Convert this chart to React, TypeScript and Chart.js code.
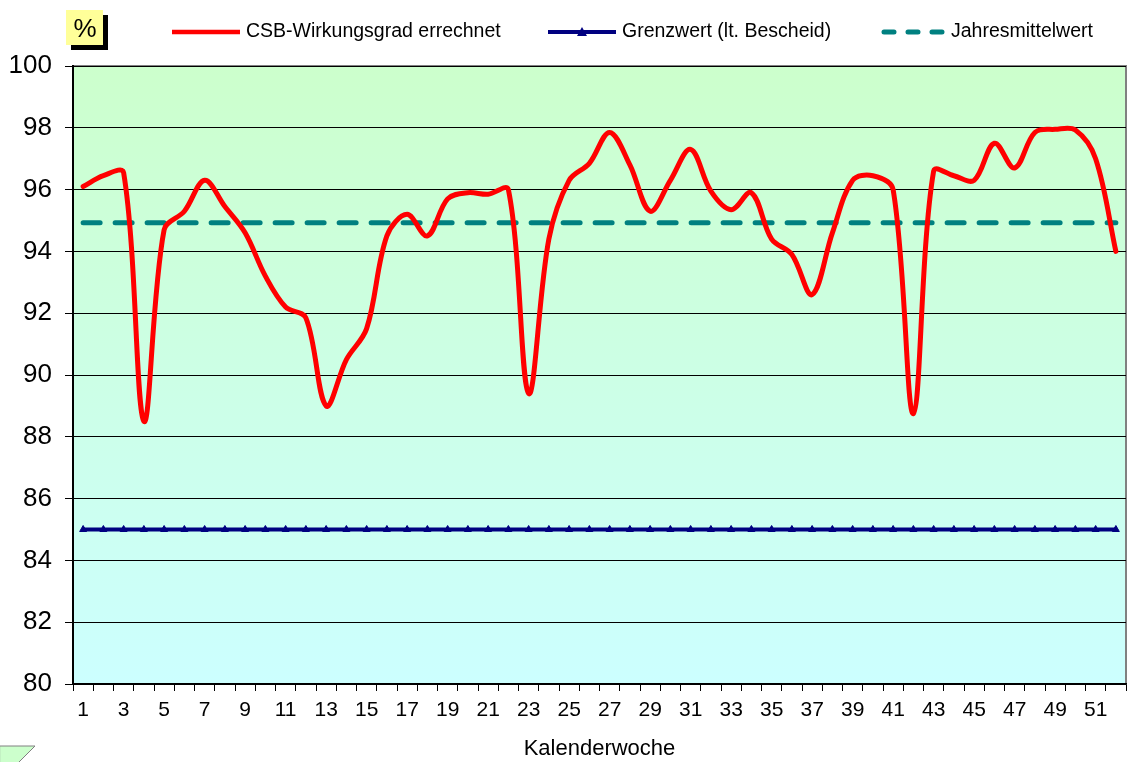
import { useEffect, useRef } from "react";
import { Chart, registerables } from "chart.js";
Chart.register(...registerables);

const weeks = ["1","2","3","4","5","6","7","8","9","10","11","12","13","14","15","16","17","18","19","20","21","22","23","24","25","26","27","28","29","30","31","32","33","34","35","36","37","38","39","40","41","42","43","44","45","46","47","48","49","50","51","52"];

const efficiency = [96.1, 96.45, 96.55, 88.5, 94.7, 95.3, 96.3, 95.45, 94.6, 93.2, 92.2, 91.85, 89.0, 90.5, 91.5, 94.5, 95.2, 94.5, 95.7, 95.9, 95.85, 96.0, 89.4, 94.4, 96.3, 96.85, 97.85, 96.8, 95.3, 96.3, 97.3, 95.95, 95.35, 95.9, 94.4, 93.9, 92.6, 94.6, 96.3, 96.45, 96.0, 88.75, 96.6, 96.45, 96.3, 97.5, 96.7, 97.85, 97.95, 97.93, 97.0, 94.0];

const limit = [85,85,85,85,85,85,85,85,85,85,85,85,85,85,85,85,85,85,85,85,85,85,85,85,85,85,85,85,85,85,85,85,85,85,85,85,85,85,85,85,85,85,85,85,85,85,85,85,85,85,85,85];

const annualMean = [94.93,94.93,94.93,94.93,94.93,94.93,94.93,94.93,94.93,94.93,94.93,94.93,94.93,94.93,94.93,94.93,94.93,94.93,94.93,94.93,94.93,94.93,94.93,94.93,94.93,94.93,94.93,94.93,94.93,94.93,94.93,94.93,94.93,94.93,94.93,94.93,94.93,94.93,94.93,94.93,94.93,94.93,94.93,94.93,94.93,94.93,94.93,94.93,94.93,94.93,94.93,94.93];

const seriesNames = ["CSB-Wirkungsgrad errechnet", "Grenzwert (lt. Bescheid)", "Jahresmittelwert"];
const yTitle = "%";
const xTitle = "Kalenderwoche";

const FONT = "'Liberation Sans', Arial, sans-serif";

const decorPlugin = {
  id: "decor",
  beforeDraw(chart: any) {
    const { ctx, chartArea: a } = chart;
    ctx.save();
    const g = ctx.createLinearGradient(0, a.top, 0, a.bottom);
    g.addColorStop(0, "#CCFFCC");
    g.addColorStop(1, "#CCFFFF");
    ctx.fillStyle = g;
    ctx.fillRect(a.left, a.top, a.right - a.left, a.bottom - a.top);
    ctx.strokeStyle = "#808080";
    ctx.lineWidth = 2;
    ctx.strokeRect(a.left, a.top, a.right - a.left, a.bottom - a.top);
    ctx.restore();
  },
  afterDraw(chart: any) {
    const { ctx } = chart;
    ctx.save();
    // % box
    ctx.fillStyle = "#000";
    ctx.fillRect(71, 15, 37, 35);
    ctx.fillStyle = "#FFFF99";
    ctx.fillRect(66, 10, 37, 35);
    ctx.fillStyle = "#000";
    ctx.font = `26px ${FONT}`;
    ctx.textAlign = "center";
    ctx.textBaseline = "middle";
    ctx.fillText(yTitle, 85, 30);

    // legend
    const y = 32;
    ctx.lineCap = "butt";
    ctx.strokeStyle = "#FF0000";
    ctx.lineWidth = 4.5;
    ctx.beginPath(); ctx.moveTo(172, y); ctx.lineTo(240, y); ctx.stroke();

    ctx.strokeStyle = "#000080";
    ctx.lineWidth = 4;
    ctx.beginPath(); ctx.moveTo(548, y); ctx.lineTo(616, y); ctx.stroke();
    ctx.fillStyle = "#000080";
    ctx.beginPath(); ctx.moveTo(582, y - 5); ctx.lineTo(587, y + 4); ctx.lineTo(577, y + 4); ctx.closePath(); ctx.fill();

    ctx.strokeStyle = "#008080";
    ctx.lineWidth = 5;
    ctx.lineCap = "round";
    ctx.setLineDash([10, 14]);
    ctx.beginPath(); ctx.moveTo(884, y); ctx.lineTo(945, y); ctx.stroke();
    ctx.setLineDash([]);

    ctx.fillStyle = "#000";
    ctx.font = `19.5px ${FONT}`;
    ctx.textAlign = "left";
    ctx.textBaseline = "middle";
    ctx.fillText(seriesNames[0], 246, y);
    ctx.fillText(seriesNames[1], 622, y);
    ctx.fillText(seriesNames[2], 951, y);

    // corner shape
    ctx.fillStyle = "#CCFFCC";
    ctx.strokeStyle = "#808080";
    ctx.lineWidth = 1;
    ctx.beginPath();
    ctx.moveTo(0, 746); ctx.lineTo(35, 746); ctx.lineTo(18, 763); ctx.lineTo(0, 763); ctx.closePath();
    ctx.fill(); ctx.stroke();
    ctx.restore();
  },
};

export default function App() {
  const ref = useRef<HTMLCanvasElement>(null);
  useEffect(() => {
    if (!ref.current) return;
    const chart = new Chart(ref.current, {
      type: "line",
      data: {
        labels: weeks,
        datasets: [
          {
            label: seriesNames[2],
            data: annualMean,
            borderColor: "#008080",
            borderWidth: 5,
            borderDash: [17, 15],
            borderCapStyle: "round",
            pointRadius: 0,
            tension: 0,
            order: 3,
          },
          {
            label: seriesNames[1],
            data: limit,
            borderColor: "#000080",
            backgroundColor: "#000080",
            borderWidth: 4,
            pointStyle: "triangle",
            pointRadius: 4,
            pointBorderWidth: 1,
            pointBackgroundColor: "#000080",
            pointBorderColor: "#000080",
            tension: 0,
            order: 2,
          },
          {
            label: seriesNames[0],
            data: efficiency,
            borderColor: "#FF0000",
            borderWidth: 5,
            pointRadius: 0,
            tension: 0.35,
            borderJoinStyle: "round",
            borderCapStyle: "round",
            order: 1,
          },
        ],
      },
      options: {
        animation: false,
        responsive: false,
        layout: { padding: { top: 66, right: 5, left: 0, bottom: 0 } },
        plugins: { legend: { display: false }, tooltip: { enabled: false } },
        scales: {
          x: {
            type: "category",
            offset: true,
            grid: { display: true, drawOnChartArea: false, drawTicks: true, tickLength: 7, color: "#000", offset: true },
            border: { color: "#000", width: 1.5 },
            ticks: {
              autoSkip: false,
              maxRotation: 0,
              color: "#000",
              font: { size: 21, family: FONT },
              padding: 7,
              callback: (_v: any, i: number) => (i % 2 === 0 ? weeks[i] : ""),
            },
            title: { display: true, text: xTitle, color: "#000", font: { size: 22, family: FONT }, padding: { top: 4, bottom: 0 } },
            afterFit: (s: any) => { s.height = 78; },
          },
          y: {
            min: 80,
            max: 100,
            ticks: { stepSize: 2, color: "#000", font: { size: 26, family: FONT }, padding: 13 },
            grid: { color: "#000", lineWidth: 1, tickLength: 8 },
            border: { color: "#000", width: 2 },
            afterFit: (s: any) => { s.width = 73; },
          },
        },
      },
      plugins: [decorPlugin],
    } as any);
    return () => chart.destroy();
  }, []);
  return (
    <div style={{ position: "absolute", left: 0, top: 0, width: 1131, height: 762 }}>
      <canvas ref={ref} width={1131} height={762} style={{ width: 1131, height: 762 }} />
    </div>
  );
}
